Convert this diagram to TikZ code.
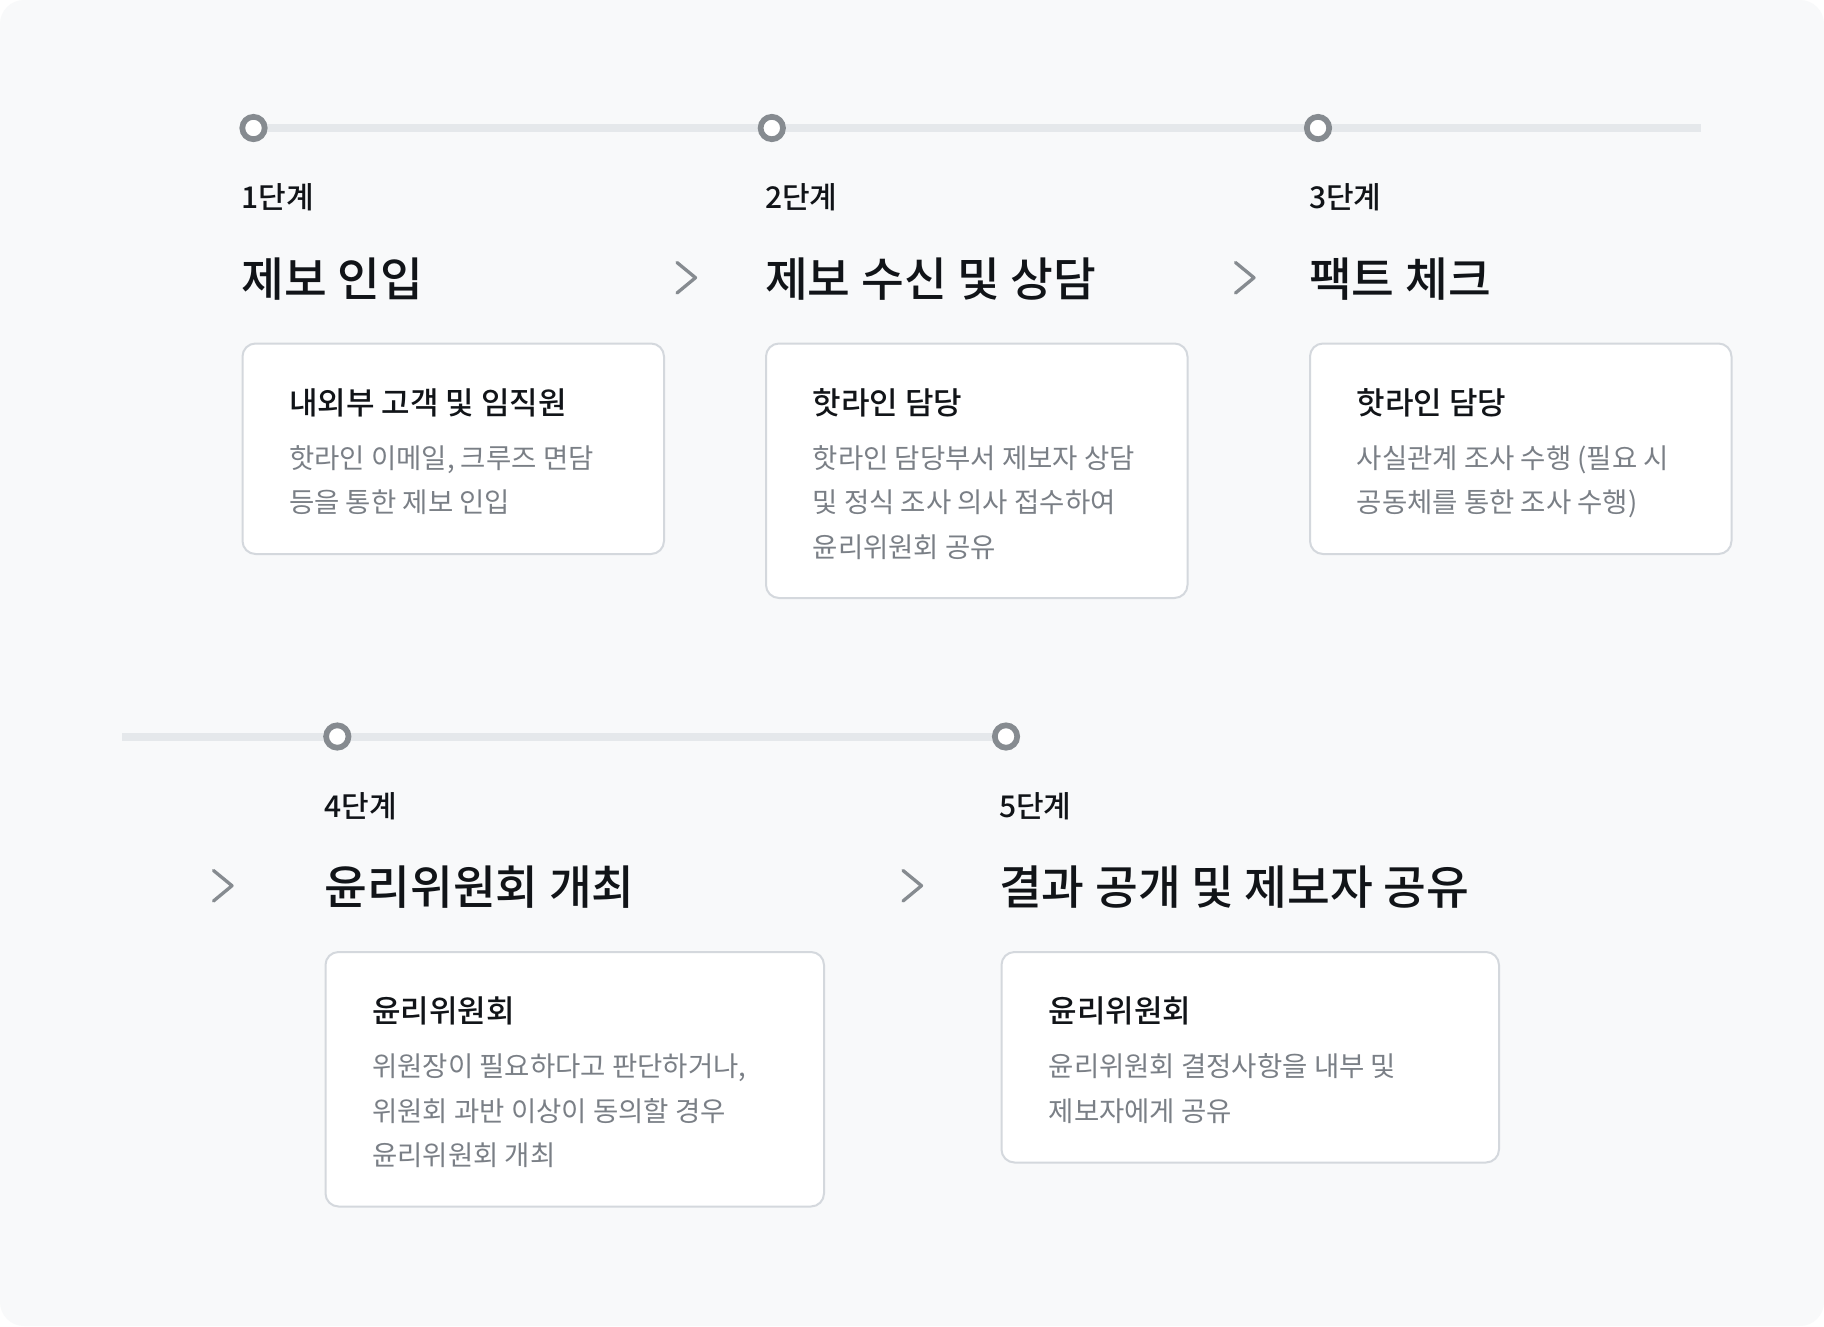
\documentclass[tikz,border=0pt]{standalone}
\usepackage{fontspec}
\newfontfamily\kr{Noto Sans CJK KR}
\newfontfamily\krm{Noto Sans CJK KR Medium}
\definecolor{bgc}{HTML}{F8F9FA}
\definecolor{trackc}{HTML}{E5E8EB}
\definecolor{dotc}{HTML}{868B90}
\definecolor{borderc}{HTML}{D4D8DD}
\definecolor{inkc}{HTML}{111418}
\definecolor{bodyc}{HTML}{7A7F86}
\tikzset{
  track/.style={draw=trackc, line width=8pt},
  dot/.style={circle, draw=dotc, fill=white, line width=5.7pt, minimum size=22.4pt, inner sep=0pt},
  chev/.style={draw=dotc, line width=3.3pt, line cap=round, line join=round},
  stagelbl/.style={anchor=base west, inner sep=0pt, text=inkc, font=\krm\fontsize{30}{34}\selectfont},
  titlelbl/.style={anchor=base west, inner sep=0pt, text=inkc, font=\krm\fontsize{46.5}{52}\selectfont},
  cardbox/.style={anchor=north west, draw=borderc, fill=white, line width=2pt, rounded corners=13pt, minimum width=421.5pt, inner sep=0pt},
  cardhead/.style={anchor=base west, inner sep=0pt, text=inkc, font=\krm\fontsize{31}{36}\selectfont},
  cardbody/.style={anchor=base west, inner sep=0pt, text=bodyc, font=\kr\fontsize{27.5}{32}\selectfont}
}
\begin{document}
\begin{tikzpicture}[x=1pt,y=-1pt]
\useasboundingbox (0,0) rectangle (1824,1326);
\fill[white] (0,0) rectangle (1824,1326);
\fill[bgc, rounded corners=24pt] (0,0) rectangle (1824,1326);

% ---------- row 1 ----------
\coordinate (t1s) at (253.5,128);
\coordinate (t1e) at (1701,128);
\draw[track] (t1s) -- (t1e);
\node[dot] (d1) at (253.5,128) {};
\node[dot] (d2) at (771.8,128) {};
\node[dot] (d3) at (1318,128) {};

\node[stagelbl] (s1) at (241.5,208.5) {1단계};
\node[stagelbl] (s2) at (765,208.5) {2단계};
\node[stagelbl] (s3) at (1309,208.5) {3단계};

\node[titlelbl] (h1) at (241.5,296) {제보 인입};
\node[titlelbl] (h2) at (765,296) {제보 수신 및 상담};
\node[titlelbl] (h3) at (1309,296) {팩트 체크};

\coordinate (c1a) at (677,262.5); \coordinate (c1b) at (695.5,277.7); \coordinate (c1c) at (677,293);
\draw[chev] (c1a) -- (c1b) -- (c1c);
\coordinate (c2a) at (1235.5,262.5); \coordinate (c2b) at (1254,277.7); \coordinate (c2c) at (1235.5,293);
\draw[chev] (c2a) -- (c2b) -- (c2c);

\node[cardbox, minimum height=210.5pt] (b1) at (241.5,342.5) {};
\node[cardbox, minimum height=254.5pt] (b2) at (765,342.5) {};
\node[cardbox, minimum height=210.5pt] (b3) at (1309,342.5) {};

\node[cardhead] (b1h) at (289,414) {내외부 고객 및 임직원};
\node[cardbody] (b1l1) at (289,468) {핫라인 이메일, 크루즈 면담};
\node[cardbody] (b1l2) at (289,512.5) {등을 통한 제보 인입};

\node[cardhead] (b2h) at (812.5,414) {핫라인 담당};
\node[cardbody] (b2l1) at (812.5,468) {핫라인 담당부서 제보자 상담};
\node[cardbody] (b2l2) at (812.5,512.5) {및 정식 조사 의사 접수하여};
\node[cardbody] (b2l3) at (812.5,557) {윤리위원회 공유};

\node[cardhead] (b3h) at (1356.5,414) {핫라인 담당};
\node[cardbody] (b3l1) at (1356.5,468) {사실관계 조사 수행 (필요 시};
\node[cardbody] (b3l2) at (1356.5,512.5) {공동체를 통한 조사 수행)};

% ---------- row 2 ----------
\coordinate (t2s) at (122,736.5);
\draw[track] (t2s) -- (1006,736.5);
\node[dot] (d4) at (337.3,736.5) {};
\node[dot] (d5) at (1006,736.5) {};

\node[stagelbl] (s4) at (324.5,817) {4단계};
\node[stagelbl] (s5) at (999,817) {5단계};

\node[titlelbl] (h4) at (324.5,904.5) {윤리위원회 개최};
\node[titlelbl] (h5) at (999,904.5) {결과 공개 및 제보자 공유};

\coordinate (c3a) at (213.5,870.5); \coordinate (c3b) at (232,885.7); \coordinate (c3c) at (213.5,901);
\draw[chev] (c3a) -- (c3b) -- (c3c);
\coordinate (c4a) at (903,870.5); \coordinate (c4b) at (921.5,885.7); \coordinate (c4c) at (903,901);
\draw[chev] (c4a) -- (c4b) -- (c4c);

\node[cardbox, minimum width=498.5pt, minimum height=254.5pt] (b4) at (324.5,951) {};
\node[cardbox, minimum width=497.5pt, minimum height=210.5pt] (b5) at (1000.5,951) {};

\node[cardhead] (b4h) at (372,1022.5) {윤리위원회};
\node[cardbody] (b4l1) at (372,1076.5) {위원장이 필요하다고 판단하거나,};
\node[cardbody] (b4l2) at (372,1121) {위원회 과반 이상이 동의할 경우};
\node[cardbody] (b4l3) at (372,1165.5) {윤리위원회 개최};

\node[cardhead] (b5h) at (1048.5,1022.5) {윤리위원회};
\node[cardbody] (b5l1) at (1048.5,1076.5) {윤리위원회 결정사항을 내부 및};
\node[cardbody] (b5l2) at (1048.5,1121) {제보자에게 공유};
\end{tikzpicture}
\end{document}
